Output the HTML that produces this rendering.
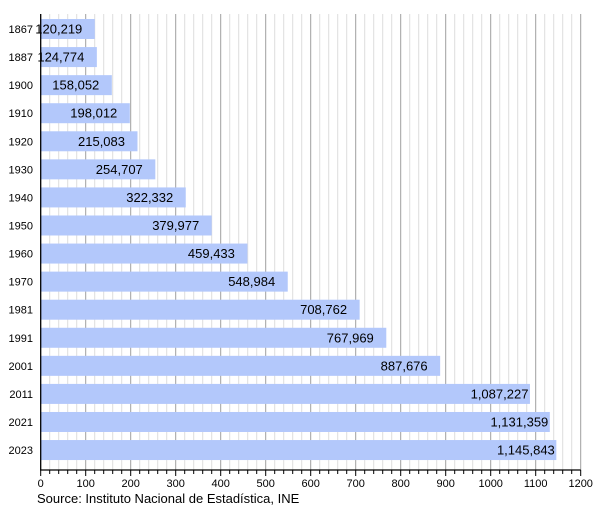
<!DOCTYPE html>
<html><head><meta charset="utf-8"><style>html,body{margin:0;padding:0;background:#fff}svg{display:block}</style></head>
<body>
<svg width="600" height="508" xmlns="http://www.w3.org/2000/svg" font-family="Liberation Sans, sans-serif">
<path stroke="#dedede" stroke-width="1" fill="none" d="M49.7 14V470M58.7 14V470M67.7 14V470M76.7 14V470M94.7 14V470M103.7 14V470M112.7 14V470M121.7 14V470M139.7 14V470M148.7 14V470M157.7 14V470M166.7 14V470M184.7 14V470M193.7 14V470M202.7 14V470M211.7 14V470M229.7 14V470M238.7 14V470M247.7 14V470M256.7 14V470M274.7 14V470M283.7 14V470M292.7 14V470M301.7 14V470M319.7 14V470M328.7 14V470M337.7 14V470M346.7 14V470M364.7 14V470M373.7 14V470M382.7 14V470M391.7 14V470M409.7 14V470M418.7 14V470M427.7 14V470M436.7 14V470M454.7 14V470M463.7 14V470M472.7 14V470M481.7 14V470M499.7 14V470M508.7 14V470M517.7 14V470M526.7 14V470M544.7 14V470M553.7 14V470M562.7 14V470M571.7 14V470"/>
<path stroke="#a0a0a0" stroke-width="1" fill="none" d="M85.7 14V470M130.7 14V470M175.7 14V470M220.7 14V470M265.7 14V470M310.7 14V470M355.7 14V470M400.7 14V470M445.7 14V470M490.7 14V470M535.7 14V470M580.7 14V470"/>
<g fill="#b3c8fb">
<rect x="40.7" y="19" width="54.10" height="20"/>
<rect x="40.7" y="47.07" width="56.15" height="20"/>
<rect x="40.7" y="75.14" width="71.12" height="20"/>
<rect x="40.7" y="103.21" width="89.11" height="20"/>
<rect x="40.7" y="131.28" width="96.79" height="20"/>
<rect x="40.7" y="159.35" width="114.62" height="20"/>
<rect x="40.7" y="187.42" width="145.05" height="20"/>
<rect x="40.7" y="215.49" width="170.99" height="20"/>
<rect x="40.7" y="243.56" width="206.74" height="20"/>
<rect x="40.7" y="271.63" width="247.04" height="20"/>
<rect x="40.7" y="299.7" width="318.94" height="20"/>
<rect x="40.7" y="327.77" width="345.59" height="20"/>
<rect x="40.7" y="355.84" width="399.45" height="20"/>
<rect x="40.7" y="383.91" width="489.25" height="20"/>
<rect x="40.7" y="411.98" width="509.11" height="20"/>
<rect x="40.7" y="440.05" width="515.63" height="20"/>
</g>
<g font-size="13" text-anchor="end" fill="#000">
<text x="82.3" y="33.5">120,219</text>
<text x="84.35" y="61.57">124,774</text>
<text x="99.3" y="89.64">158,052</text>
<text x="117.3" y="117.71">198,012</text>
<text x="125.0" y="145.78">215,083</text>
<text x="142.8" y="173.85">254,707</text>
<text x="173.25" y="201.92">322,332</text>
<text x="199.2" y="229.99">379,977</text>
<text x="234.9" y="258.06">459,433</text>
<text x="275.2" y="286.13">548,984</text>
<text x="347.1" y="314.2">708,762</text>
<text x="373.8" y="342.27">767,969</text>
<text x="427.65" y="370.34">887,676</text>
<text x="528.45" y="398.41">1,087,227</text>
<text x="548.3" y="426.48">1,131,359</text>
<text x="554.8" y="454.55">1,145,843</text>
</g>
<g font-size="11" text-anchor="end" fill="#000">
<text x="33" y="33">1867</text>
<text x="33" y="61.07">1887</text>
<text x="33" y="89.14">1900</text>
<text x="33" y="117.21">1910</text>
<text x="33" y="145.28">1920</text>
<text x="33" y="173.35">1930</text>
<text x="33" y="201.42">1940</text>
<text x="33" y="229.49">1950</text>
<text x="33" y="257.56">1960</text>
<text x="33" y="285.63">1970</text>
<text x="33" y="313.7">1981</text>
<text x="33" y="341.77">1991</text>
<text x="33" y="369.84">2001</text>
<text x="33" y="397.91">2011</text>
<text x="33" y="425.98">2021</text>
<text x="33" y="454.05">2023</text>
</g>
<line x1="40.7" y1="14" x2="40.7" y2="470" stroke="#000" stroke-width="1.3"/>
<line x1="40" y1="470" x2="580.7" y2="470" stroke="#000" stroke-width="1.3"/>
<path stroke="#000" stroke-width="1" fill="none" d="M49.7 470V474M58.7 470V474M67.7 470V474M76.7 470V474M94.7 470V474M103.7 470V474M112.7 470V474M121.7 470V474M139.7 470V474M148.7 470V474M157.7 470V474M166.7 470V474M184.7 470V474M193.7 470V474M202.7 470V474M211.7 470V474M229.7 470V474M238.7 470V474M247.7 470V474M256.7 470V474M274.7 470V474M283.7 470V474M292.7 470V474M301.7 470V474M319.7 470V474M328.7 470V474M337.7 470V474M346.7 470V474M364.7 470V474M373.7 470V474M382.7 470V474M391.7 470V474M409.7 470V474M418.7 470V474M427.7 470V474M436.7 470V474M454.7 470V474M463.7 470V474M472.7 470V474M481.7 470V474M499.7 470V474M508.7 470V474M517.7 470V474M526.7 470V474M544.7 470V474M553.7 470V474M562.7 470V474M571.7 470V474M40.7 470V476M85.7 470V476M130.7 470V476M175.7 470V476M220.7 470V476M265.7 470V476M310.7 470V476M355.7 470V476M400.7 470V476M445.7 470V476M490.7 470V476M535.7 470V476M580.7 470V476"/>
<g font-size="11" text-anchor="middle" fill="#000">
<text x="40.7" y="487">0</text><text x="85.7" y="487">100</text><text x="130.7" y="487">200</text><text x="175.7" y="487">300</text><text x="220.7" y="487">400</text><text x="265.7" y="487">500</text><text x="310.7" y="487">600</text><text x="355.7" y="487">700</text><text x="400.7" y="487">800</text><text x="445.7" y="487">900</text><text x="490.7" y="487">1000</text><text x="535.7" y="487">1100</text><text x="580.7" y="487">1200</text>
</g>
<text x="37" y="503" font-size="13" fill="#000">Source: Instituto Nacional de Estadística, INE</text>
</svg>
</body></html>
